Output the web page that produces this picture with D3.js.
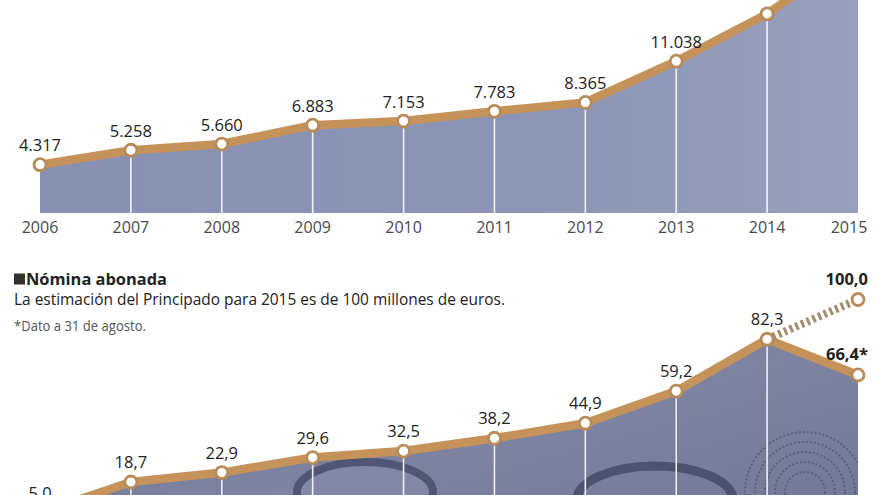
<!DOCTYPE html>
<html><head><meta charset="utf-8">
<script src="https://cdn.jsdelivr.net/npm/d3@7"></script>
<style>
html,body{margin:0;padding:0;background:#fff;}
svg{display:block;font-family:"Open Sans","Noto Sans",sans-serif;}
</style></head>
<body><svg id="c" width="880" height="495"></svg>
<script>
// ---- data ----
const years = [2006, 2007, 2008, 2009, 2010, 2011, 2012, 2013, 2014, 2015];
const beneficiarios = [4317, 5258, 5660, 6883, 7153, 7783, 8365, 11038, 14117, 18200];
const nomina = [5.0, 18.7, 22.9, 29.6, 32.5, 38.2, 44.9, 59.2, 82.3, 66.4];
const estimacion2015 = 100.0;
const titulo = "Nómina abonada";
const subtitulo = "La estimación del Principado para 2015 es de 100 millones de euros.";
const nota = "*Dato a 31 de agosto.";

const loc = d3.formatLocale({decimal: ",", thousands: ".", grouping: [3], currency: ["", "€"]});
const fmtInt = loc.format(",d");
const fmtDec = loc.format(",.1f");

const svg = d3.select("#c");
const W = 880, H = 495;
const defs = svg.append("defs");
defs.append("clipPath").attr("id", "clipAll").append("rect").attr("width", W).attr("height", H);

const gTopGrad = defs.append("linearGradient").attr("id", "gTop").attr("x1", 0).attr("x2", 1).attr("y1", 0).attr("y2", 0);
gTopGrad.append("stop").attr("offset", "0%").attr("stop-color", "#878fb2");
gTopGrad.append("stop").attr("offset", "60%").attr("stop-color", "#8d95b6");
gTopGrad.append("stop").attr("offset", "100%").attr("stop-color", "#98a0bd");
const gBotGrad = defs.append("linearGradient").attr("id", "gBot").attr("x1", 0).attr("x2", 1).attr("y1", 0).attr("y2", 1);
gBotGrad.append("stop").attr("offset", "0%").attr("stop-color", "#6f7594");
gBotGrad.append("stop").attr("offset", "50%").attr("stop-color", "#7d83a0");
gBotGrad.append("stop").attr("offset", "100%").attr("stop-color", "#707692");

const lineColor = "#c5935a";
const circleStroke = "#b98b58";

const x = d3.scalePoint().domain(years).range([40, 858]);

// ================= TOP CHART =================
const topBase = 213;
const yTop = d3.scaleLinear().domain([0, 15000]).range([231.2, 0.2]);
const gT = svg.append("g").attr("clip-path", "url(#clipAll)");
const topData = years.map((yr, i) => ({yr, v: beneficiarios[i]}));

gT.append("path").datum(topData)
  .attr("d", d3.area().x(d => x(d.yr)).y0(topBase).y1(d => yTop(d.v)))
  .attr("fill", "url(#gTop)");

gT.selectAll(".dropT").data(topData.slice(1, 9)).join("line")
  .attr("x1", d => x(d.yr)).attr("x2", d => x(d.yr))
  .attr("y1", d => yTop(d.v)).attr("y2", topBase)
  .attr("stroke", "#f2f3f8").attr("stroke-width", 1.6);

gT.append("path").datum(topData)
  .attr("d", d3.line().x(d => x(d.yr)).y(d => yTop(d.v)))
  .attr("fill", "none").attr("stroke", lineColor).attr("stroke-width", 8.5)
  .attr("stroke-linejoin", "round");

gT.selectAll(".ptT").data(topData).join("circle")
  .attr("cx", d => x(d.yr)).attr("cy", d => yTop(d.v)).attr("r", 6)
  .attr("fill", "#fff").attr("stroke", circleStroke).attr("stroke-width", 2.8);

gT.selectAll(".lblT").data(topData).join("text")
  .attr("x", d => x(d.yr)).attr("y", d => yTop(d.v) - 13.5)
  .attr("text-anchor", "middle").attr("font-size", 16.5).attr("fill", "#222")
  .text(d => fmtInt(d.v));

svg.selectAll(".yearT").data(years).join("text")
  .attr("x", d => d === 2015 ? x(d) - 9 : x(d)).attr("y", 233)
  .attr("text-anchor", "middle").attr("font-size", 16)
  .attr("fill", "#4a4a4a").text(d => d);

// ================= BOTTOM CHART =================
svg.append("rect").attr("x", 14).attr("y", 273.5).attr("width", 11).attr("height", 11).attr("fill", "#333");
svg.append("text").attr("x", 26).attr("y", 285).attr("font-size", 16.5).attr("font-weight", 700)
  .attr("fill", "#222").attr("textLength", 141).attr("lengthAdjust", "spacingAndGlyphs").text(titulo);
svg.append("text").attr("x", 14).attr("y", 305).attr("font-size", 16)
  .attr("fill", "#222").attr("textLength", 491).attr("lengthAdjust", "spacingAndGlyphs").text(subtitulo);
svg.append("text").attr("x", 14).attr("y", 331).attr("font-size", 14)
  .attr("fill", "#555").attr("textLength", 132).attr("lengthAdjust", "spacingAndGlyphs").text(nota);

const yBot = d3.scaleLinear().domain([0, 100]).range([524, 299.5]);
const botData = years.map((yr, i) => ({yr, v: nomina[i]}));
const gB = svg.append("g").attr("clip-path", "url(#clipAll)");

const botClip = defs.append("clipPath").attr("id", "clipBotArea");
botClip.append("path").datum(botData)
  .attr("d", d3.area().x(d => x(d.yr)).y0(560).y1(d => yBot(d.v)));

gB.append("path").datum(botData)
  .attr("d", d3.area().x(d => x(d.yr)).y0(560).y1(d => yBot(d.v)))
  .attr("fill", "url(#gBot)");

// photo-like texture rings (decoration inside the area)
const tex = gB.append("g").attr("clip-path", "url(#clipBotArea)");
tex.append("ellipse").attr("cx", 365).attr("cy", 492).attr("rx", 68).attr("ry", 30)
  .attr("fill", "#858ba8").attr("stroke", "#3e4462").attr("stroke-width", 8).attr("opacity", 0.7);
tex.append("ellipse").attr("cx", 655).attr("cy", 500).attr("rx", 78).attr("ry", 34)
  .attr("fill", "none").attr("stroke", "#3a405c").attr("stroke-width", 9).attr("opacity", 0.7);
[60, 50, 40, 30, 20].forEach(r => {
  tex.append("circle").attr("cx", 805).attr("cy", 492).attr("r", r)
    .attr("fill", "none").attr("stroke", "#4a506c").attr("stroke-width", 2).attr("stroke-dasharray", "2,2").attr("opacity", 0.6);
});

gB.selectAll(".dropB").data(botData.slice(1, 9)).join("line")
  .attr("x1", d => x(d.yr)).attr("x2", d => x(d.yr))
  .attr("y1", d => yBot(d.v)).attr("y2", H)
  .attr("stroke", "#eef0f6").attr("stroke-width", 1.6);

gB.append("path").datum(botData)
  .attr("d", d3.line().x(d => x(d.yr)).y(d => yBot(d.v)))
  .attr("fill", "none").attr("stroke", lineColor).attr("stroke-width", 8.5)
  .attr("stroke-linejoin", "round");

const estData = [{yr: 2014, v: nomina[8]}, {yr: 2015, v: estimacion2015}];
gB.append("path").datum(estData)
  .attr("d", d3.line().x(d => x(d.yr)).y(d => yBot(d.v)))
  .attr("fill", "none").attr("stroke", "#a38d6d").attr("stroke-width", 8)
  .attr("stroke-dasharray", "3,3.2");

gB.selectAll(".ptB").data(botData.concat([{yr: 2015, v: estimacion2015, est: true}])).join("circle")
  .attr("cx", d => x(d.yr)).attr("cy", d => yBot(d.v)).attr("r", 6)
  .attr("fill", "#fff").attr("stroke", circleStroke).attr("stroke-width", 2.8);

gB.selectAll(".lblB").data(botData.slice(0, 9)).join("text")
  .attr("x", d => x(d.yr)).attr("y", d => yBot(d.v) - 14)
  .attr("text-anchor", "middle").attr("font-size", 16.5).attr("fill", "#222")
  .text(d => fmtDec(d.v));

gB.append("text").attr("x", x(2015) + 10).attr("y", yBot(nomina[9]) - 15)
  .attr("text-anchor", "end").attr("font-size", 16.5).attr("font-weight", 700).attr("fill", "#222")
  .text(fmtDec(nomina[9]) + "*");
gB.append("text").attr("x", x(2015) + 10).attr("y", yBot(estimacion2015) - 15)
  .attr("text-anchor", "end").attr("font-size", 16.5).attr("font-weight", 700).attr("fill", "#222")
  .text(fmtDec(estimacion2015));
</script></body></html>
